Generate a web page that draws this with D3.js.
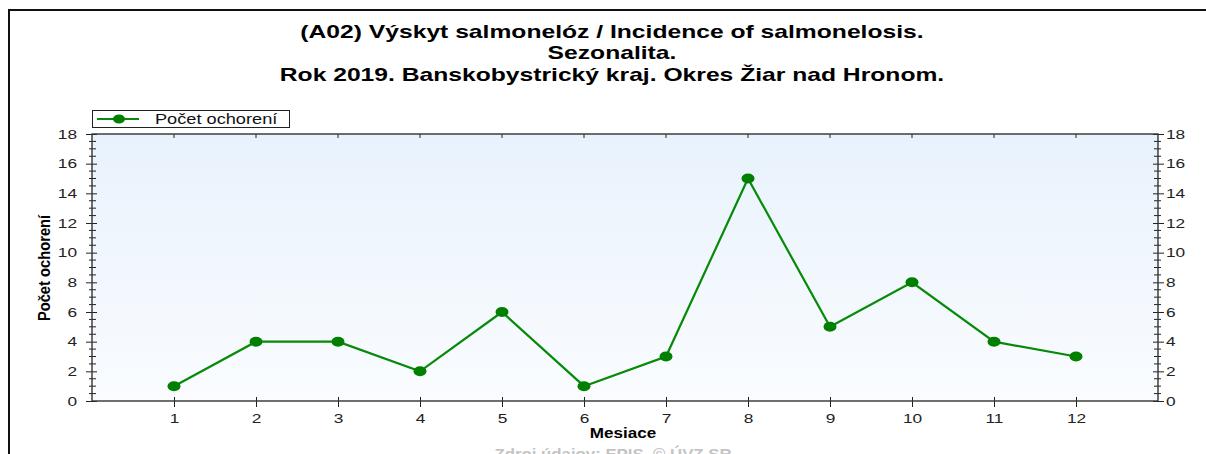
<!DOCTYPE html>
<html>
<head>
<meta charset="utf-8">
<script src="https://cdn.jsdelivr.net/npm/d3@7"></script>
<style>
  body { margin: 0; background: #fff; }
  svg { display: block; font-family: "Liberation Sans", Arial, sans-serif; }
  .tick text { fill: #222; font-size: 13px; }
</style>
</head>
<body>
<div id="chart"></div>
<script>
// data
var months = [1, 2, 3, 4, 5, 6, 7, 8, 9, 10, 11, 12];
var cases = [1, 4, 4, 2, 6, 1, 3, 15, 5, 8, 4, 3];
var yTicks = [0, 2, 4, 6, 8, 10, 12, 14, 16, 18];
var titleLines = [
  "(A02) Výskyt salmonelóz / Incidence of salmonelosis.",
  "Sezonalita.",
  "Rok 2019. Banskobystrický kraj. Okres Žiar nad Hronom."
];
var seriesName = "Počet ochorení";
var xTitle = "Mesiace";
var yTitle = "Počet ochorení";
var source = "Zdroj údajov: EPIS, © ÚVZ SR";

var width = 1206, height = 454;
var Plot = { left: 92, right: 1158, top: 134, bottom: 401 };
var green = "#078a07";
var stretch = 1.33; // the original image is stretched horizontally

// widen a text horizontally around its own x position
function widen(sel, s) {
  sel.each(function() {
    var t = d3.select(this);
    var x0 = +t.attr("x") || 0;
    t.attr("transform", `translate(${x0},0) scale(${s},1) translate(${-x0},0)`);
  });
}

var svg = d3.select("#chart").append("svg")
  .attr("width", width)
  .attr("height", height);

// gradient background of plot
var grad = svg.append("defs").append("linearGradient")
  .attr("id", "bg").attr("x1", 0).attr("y1", 0).attr("x2", 0).attr("y2", 1);
grad.append("stop").attr("offset", "0%").attr("stop-color", "#e8f2fc");
grad.append("stop").attr("offset", "100%").attr("stop-color", "#fafcff");

// outer frame (only left + top are visible)
svg.append("path")
  .attr("d", `M9,${height} V10 H${width}`)
  .attr("fill", "none")
  .attr("stroke", "#111")
  .attr("stroke-width", 2);

// title
svg.append("g").selectAll("text")
  .data(titleLines)
  .enter()
  .append("text")
  .attr("x", 612)
  .attr("y", (d, i) => 38 + i * 21.5)
  .attr("text-anchor", "middle")
  .attr("font-weight", "bold")
  .attr("font-size", "18px")
  .attr("fill", "#000")
  .text(d => d)
  .call(widen, 1.37);

var x = d3.scaleLinear().domain([0, 13]).range([Plot.left, Plot.right]);
var y = d3.scaleLinear().domain([0, 18]).range([Plot.bottom, Plot.top]);

svg.append("rect")
  .attr("x", Plot.left)
  .attr("y", Plot.top)
  .attr("width", Plot.right - Plot.left)
  .attr("height", Plot.bottom - Plot.top)
  .attr("fill", "url(#bg)");

var minorVals = d3.range(0, 18.01, 0.5);

// left axis
var yLeft = svg.append("g").attr("transform", `translate(${Plot.left},0)`);
yLeft.call(d3.axisLeft(y).tickValues(yTicks).tickSize(6).tickPadding(6));
yLeft.select(".domain").remove();
yLeft.selectAll(".tick line").attr("x2", -6).attr("x1", 5).attr("stroke", "#222");
yLeft.selectAll(".tick text").attr("x", -15).call(widen, stretch);
yLeft.selectAll(".minor")
  .data(minorVals.filter(v => v % 2 !== 0))
  .enter().append("line")
  .attr("class", "minor")
  .attr("x1", -3).attr("x2", 4)
  .attr("y1", d => y(d)).attr("y2", d => y(d))
  .attr("stroke", "#222");

// right axis
var yRight = svg.append("g").attr("transform", `translate(${Plot.right},0)`);
yRight.call(d3.axisRight(y).tickValues(yTicks).tickSize(6).tickPadding(5));
yRight.select(".domain").remove();
yRight.selectAll(".tick line").attr("x1", -5).attr("x2", 6).attr("stroke", "#222");
yRight.selectAll(".tick text").attr("x", 8).call(widen, stretch);
yRight.selectAll(".minor")
  .data(minorVals.filter(v => v % 2 !== 0))
  .enter().append("line")
  .attr("class", "minor")
  .attr("x1", -4).attr("x2", 3)
  .attr("y1", d => y(d)).attr("y2", d => y(d))
  .attr("stroke", "#222");

// bottom axis
var xAxis = svg.append("g").attr("transform", `translate(0,${Plot.bottom})`);
xAxis.call(d3.axisBottom(x).tickValues(months).tickSize(6).tickPadding(7).tickFormat(d3.format("d")));
xAxis.select(".domain").remove();
xAxis.selectAll(".tick line").attr("y1", -4).attr("y2", 6).attr("stroke", "#222");
xAxis.selectAll(".tick text").call(widen, stretch);

// top ticks
svg.append("g").selectAll("line")
  .data(months)
  .enter().append("line")
  .attr("x1", d => x(d)).attr("x2", d => x(d))
  .attr("y1", Plot.top).attr("y2", Plot.top + 4)
  .attr("stroke", "#222");

// plot frame lines
svg.append("rect")
  .attr("x", Plot.left)
  .attr("y", Plot.top)
  .attr("width", Plot.right - Plot.left)
  .attr("height", Plot.bottom - Plot.top)
  .attr("fill", "none")
  .attr("stroke", "#333")
  .attr("stroke-width", 1.4);

// series
var line = d3.line()
  .x((d, i) => x(months[i]))
  .y(d => y(d));

svg.append("path")
  .datum(cases)
  .attr("d", line)
  .attr("fill", "none")
  .attr("stroke", green)
  .attr("stroke-width", 2.2);

svg.append("g").selectAll("ellipse")
  .data(cases)
  .enter().append("ellipse")
  .attr("cx", (d, i) => x(months[i]))
  .attr("cy", d => y(d))
  .attr("rx", 6.5)
  .attr("ry", 5)
  .attr("fill", "#007f00");

// legend
var legend = svg.append("g").attr("transform", "translate(92,110)");
legend.append("rect")
  .attr("x", 0.5).attr("y", 0.5)
  .attr("width", 197).attr("height", 17)
  .attr("fill", "#fff")
  .attr("stroke", "#222");
legend.append("line")
  .attr("x1", 5).attr("x2", 47)
  .attr("y1", 9).attr("y2", 9)
  .attr("stroke", green).attr("stroke-width", 2.2);
legend.append("ellipse")
  .attr("cx", 27).attr("cy", 9).attr("rx", 6).attr("ry", 4.5)
  .attr("fill", "#007f00");
legend.append("text")
  .attr("x", 63).attr("y", 14)
  .attr("font-size", "14px")
  .attr("fill", "#111")
  .text(seriesName)
  .call(widen, 1.3);

// axis titles
svg.append("text")
  .attr("transform", `translate(50,268) rotate(-90) scale(0.92,1)`)
  .attr("text-anchor", "middle")
  .attr("font-weight", "bold")
  .attr("font-size", "16px")
  .text(yTitle);

svg.append("text")
  .attr("x", 623)
  .attr("y", 438)
  .attr("text-anchor", "middle")
  .attr("font-weight", "bold")
  .attr("font-size", "14px")
  .text(xTitle)
  .call(widen, 1.22);

svg.append("text")
  .attr("x", 613)
  .attr("y", 459)
  .attr("text-anchor", "middle")
  .attr("font-weight", "bold")
  .attr("font-size", "14px")
  .attr("fill", "#c4c4c4")
  .text(source)
  .call(widen, 1.2);
</script>
</body>
</html>
